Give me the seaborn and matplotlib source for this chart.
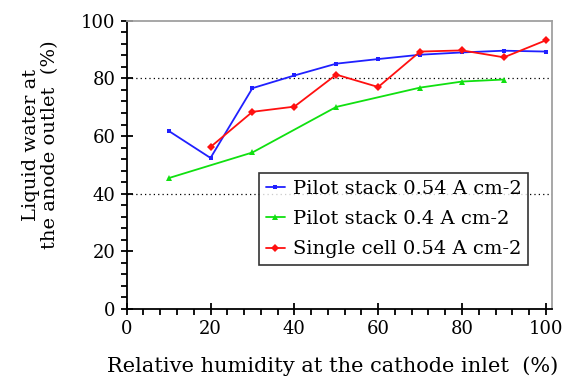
import matplotlib
matplotlib.use("Agg")
import matplotlib.pyplot as plt
import seaborn as sns
import numpy as np
from matplotlib.ticker import MultipleLocator

sns.set_style("white")
plt.rcParams['font.family'] = ['DejaVu Serif']
plt.rcParams['text.color'] = 'black'
plt.rcParams['axes.labelcolor'] = 'black'
plt.rcParams['xtick.color'] = 'black'
plt.rcParams['ytick.color'] = 'black'

rh_blue = [10, 20, 30, 40, 50, 60, 70, 80, 90, 100]
pilot_054 = [61.8, 52.4, 76.6, 81.0, 85.1, 86.7, 88.2, 89.0, 89.6, 89.3]
rh_green = [10, 30, 50, 70, 80, 90]
pilot_04 = [45.4, 54.3, 70.1, 76.8, 78.9, 79.6]
rh_red = [20, 30, 40, 50, 60, 70, 80, 90, 100]
single_054 = [56.2, 68.4, 70.2, 81.3, 77.0, 89.3, 89.7, 87.3, 93.2]

labels = ["Pilot stack 0.54 A cm-2", "Pilot stack 0.4 A cm-2", "Single cell 0.54 A cm-2"]
x_ticks = [0, 20, 40, 60, 80, 100]
y_ticks = [0, 20, 40, 60, 80, 100]

fig = plt.figure(figsize=(5.62, 3.78), dpi=100)
ax = fig.add_axes([0.2254, 0.1825, 0.9817 - 0.2254, 0.9452 - 0.1825])

for y in (40, 80):
    ax.axhline(y, color='black', lw=0.9, ls=(0, (1, 2.5)), zorder=1)

sns.lineplot(x=rh_blue, y=pilot_054, ax=ax, color='#2020ff', marker='s', markersize=3.5,
             markeredgewidth=0, lw=1.3, label=labels[0], zorder=3)
sns.lineplot(x=rh_green, y=pilot_04, ax=ax, color='#10e010', marker='^', markersize=5,
             markeredgewidth=0, lw=1.3, label=labels[1], zorder=3)
sns.lineplot(x=rh_red, y=single_054, ax=ax, color='#ff1010', marker='D', markersize=4,
             markeredgewidth=0, lw=1.3, label=labels[2], zorder=3)

ax.set_xlim(0, 101.4)
ax.set_ylim(0, 100)
ax.set_xticks(x_ticks)
ax.set_yticks(y_ticks)
ax.xaxis.set_minor_locator(MultipleLocator(4))
ax.yaxis.set_minor_locator(MultipleLocator(4))
ax.tick_params(axis='both', which='major', direction='inout', length=8, width=1.3,
               labelsize=13, color='black', pad=4)
ax.tick_params(axis='both', which='minor', direction='out', length=4, width=1.3, color='black')
ax.tick_params(axis='x', which='both', bottom=True, top=False)
ax.tick_params(axis='y', which='both', left=True, right=False)

for s in ('left', 'bottom'):
    ax.spines[s].set_color('black')
    ax.spines[s].set_linewidth(1.3)
for s in ('top', 'right'):
    ax.spines[s].set_color('#a0a0a0')
    ax.spines[s].set_linewidth(1.3)
    ax.spines[s].set_visible(True)

ax.set_xlabel("Relative humidity at the cathode inlet  (%)", fontsize=15, labelpad=4)
ax.xaxis.set_label_coords(0.485, -0.165)
ax.set_ylabel("Liquid water at\nthe anode outlet  (%)", fontsize=14, linespacing=1.05)
ax.yaxis.set_label_coords(-0.16, 0.57)

leg = ax.legend(loc='lower left', bbox_to_anchor=(0.311, 0.152), frameon=True, fancybox=False,
                edgecolor='black', fontsize=14, handlelength=1.0, handletextpad=0.4,
                borderpad=0.35, labelspacing=0.63, borderaxespad=0)
leg.get_frame().set_linewidth(1.2)

fig.savefig("out.png", dpi=100)
